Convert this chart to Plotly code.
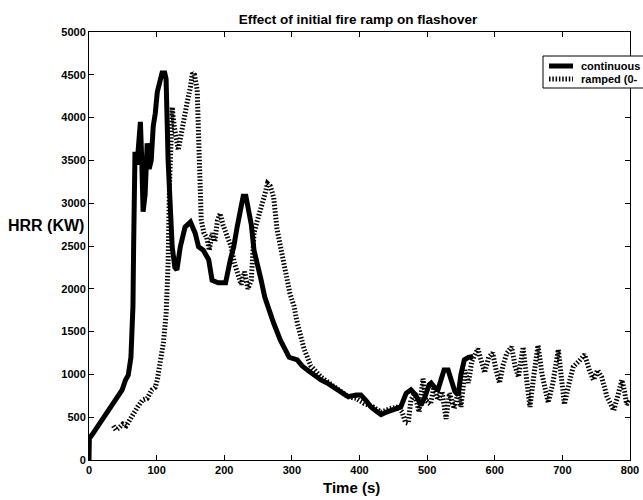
import plotly.graph_objects as go

# Continuous fire (solid curve)
cont_t = [0, 0.5, 5, 13, 20, 28, 35, 41, 49, 54, 58, 62, 65, 66, 68, 71, 74, 76, 78, 80, 83, 86, 89, 92, 95,
          98, 101, 105, 108, 112, 114, 117, 120, 123, 127, 130, 135, 142, 150, 157, 162, 169, 177, 182, 191,
          202, 209, 214, 219, 224, 228, 232, 236, 240, 244, 249, 254, 260, 264, 273, 283, 290, 296, 308, 315,
          323, 333, 343, 352, 362, 372, 383, 395, 402, 410, 417, 425, 432, 440, 447, 455, 461, 466, 469, 476,
          483, 491, 497, 503, 506, 511, 516, 521, 525, 531, 536, 541, 546, 550, 555, 561, 568]
cont_v = [0, 250, 300, 390, 470, 580, 650, 720, 820, 935, 990, 1200, 1800, 2500, 3600, 3450, 3700, 3950, 3500,
          2900, 3100, 3700, 3400, 3500, 3900, 4050, 4300, 4400, 4520, 4520, 4450, 3500, 2900, 2490, 2250, 2220,
          2490, 2720, 2780, 2650, 2490, 2450, 2340, 2100, 2070, 2070, 2340, 2490, 2720, 2960, 3080, 3080, 2900,
          2750, 2450, 2300, 2120, 1900, 1800, 1600, 1400, 1280, 1200, 1170, 1100, 1050, 990, 935, 900, 850, 790,
          740, 760, 760, 690, 620, 570, 530, 560, 580, 600, 620, 720, 780, 820, 760, 640, 740, 880, 900, 850,
          820, 950, 1050, 1050, 900, 800, 760, 1000, 1170, 1200, 1210]

# Ramped fire (hatched curve)
ramp_t = [36, 40, 45, 50, 55, 60, 64, 68, 72, 79, 86, 93, 98, 101, 105, 110, 114, 117, 119, 121, 123, 126, 128,
          132, 135, 138, 142, 145, 150, 153, 156, 160, 162, 164, 166, 170, 174, 178, 182, 186, 190, 194, 198,
          205, 210, 215, 220, 225, 230, 235, 240, 244, 249, 254, 260, 264, 268, 273, 278, 283, 288, 297, 303,
          308, 318, 328, 343, 362, 383, 395, 407, 420, 432, 445, 457, 463, 468, 472, 476, 482, 488, 494, 498,
          505, 510, 516, 522, 528, 533, 540, 546, 550, 556, 561, 566, 575, 580, 585, 591, 597, 602, 607, 612,
          618, 625, 630, 635, 642, 647, 652, 658, 664, 670, 679, 686, 694, 698, 703, 710, 716, 724, 733, 740,
          746, 752, 758, 766, 771, 776, 782, 788, 792, 795, 800]
ramp_v = [400, 350, 380, 420, 400, 470, 520, 580, 620, 700, 720, 820, 850, 935, 1130, 1370, 1700, 2300, 3200,
          3900, 4120, 3900, 3770, 3620, 3750, 3890, 4010, 4170, 4360, 4520, 4500, 4320, 3800, 3200, 2800, 2650,
          2600, 2450, 2650, 2550, 2800, 2880, 2750, 2600, 2500, 2300, 2150, 2050, 2200, 2000, 2100, 2650, 2800,
          2920, 3100, 3230, 3200, 3070, 2700, 2500, 2300, 1950, 1800, 1600, 1300, 1100, 970, 860, 740, 720, 660,
          620, 560, 600, 620, 560, 440, 430, 700, 780, 560, 950, 700, 650, 850, 700, 800, 480, 780, 600, 800,
          620, 1050, 900, 1150, 1300, 1150, 1020, 1200, 1250, 1050, 900, 1100, 1250, 1320, 1100, 970, 1320, 950,
          620, 1000, 1340, 1000, 670, 900, 1290, 1000, 650, 900, 1090, 1150, 1230, 1050, 935, 1050, 970, 740,
          650, 580, 750, 935, 800, 650, 700]

series_names = ["continuous", "ramped (0-"]

x_ticks = list(range(0, 801, 100))
y_ticks = list(range(0, 5001, 500))

FONT = "Liberation Sans, Arial, sans-serif"
RAMP_DASH = "1.5px,1.8px"

fig = go.Figure()
fig.add_trace(go.Scatter(x=cont_t, y=cont_v, mode="lines", name=series_names[0],
                         line=dict(color="black", width=5)))
fig.add_trace(go.Scatter(x=ramp_t, y=ramp_v, mode="lines", name=series_names[1],
                         line=dict(color="black", width=5, dash=RAMP_DASH)))

axis_common = dict(showline=True, linecolor="black", linewidth=1, mirror="ticks", ticks="inside",
                   ticklen=5, tickcolor="black", showgrid=False, zeroline=False,
                   tickfont=dict(family=FONT, size=11, color="black", weight="bold"))

fig.update_xaxes(range=[0, 800], tickvals=x_ticks, ticktext=[str(v) for v in x_ticks], **axis_common)
fig.update_yaxes(range=[0, 5000], tickvals=y_ticks, ticktext=[str(v) for v in y_ticks], **axis_common)

# Plot-area pixel geometry (for placing the boxed legend in paper coordinates)
PL, PR, PT, PB = 89, 630, 32, 460


def px_x(p):
    return (p - PL) / (PR - PL)


def px_y(p):
    return (PB - p) / (PB - PT)


shapes = [
    dict(type="rect", xref="paper", yref="paper", x0=px_x(543), x1=px_x(665), y0=px_y(88), y1=px_y(56),
         line=dict(color="black", width=1), fillcolor="white", layer="above"),
    dict(type="line", xref="paper", yref="paper", x0=px_x(549), x1=px_x(573), y0=px_y(66), y1=px_y(66),
         line=dict(color="black", width=5), layer="above"),
    dict(type="line", xref="paper", yref="paper", x0=px_x(549), x1=px_x(573), y0=px_y(79), y1=px_y(79),
         line=dict(color="black", width=5, dash=RAMP_DASH), layer="above"),
]

annotations = [
    dict(text="Time (s)", xref="paper", yref="paper", x=px_x(351), y=px_y(488), xanchor="center",
         yanchor="middle", showarrow=False, font=dict(family=FONT, size=15, color="black", weight="bold")),
    dict(text="HRR (KW)", xref="paper", yref="paper", x=px_x(46), y=px_y(225), xanchor="center",
         yanchor="middle", showarrow=False, font=dict(family=FONT, size=16, color="black", weight="bold")),
    dict(text=series_names[0], xref="paper", yref="paper", x=px_x(579), y=px_y(66), xanchor="left",
         yanchor="middle", showarrow=False, font=dict(family=FONT, size=11, color="black", weight="bold")),
    dict(text=series_names[1], xref="paper", yref="paper", x=px_x(579), y=px_y(79), xanchor="left",
         yanchor="middle", showarrow=False, font=dict(family=FONT, size=11, color="black", weight="bold")),
]

fig.update_layout(
    width=643, height=500,
    margin=dict(l=PL, r=643 - PR, t=PT, b=500 - PB, autoexpand=False),
    paper_bgcolor="white", plot_bgcolor="white",
    font=dict(family=FONT, color="black"),
    title=dict(text="Effect of initial fire ramp on flashover", x=px_x(358), xref="paper",
               y=1 - 19 / 500, yref="container", xanchor="center", yanchor="middle",
               font=dict(family=FONT, size=13.5, color="black", weight="bold")),
    showlegend=False,
    shapes=shapes,
    annotations=annotations,
)

fig.write_html("out.html")
